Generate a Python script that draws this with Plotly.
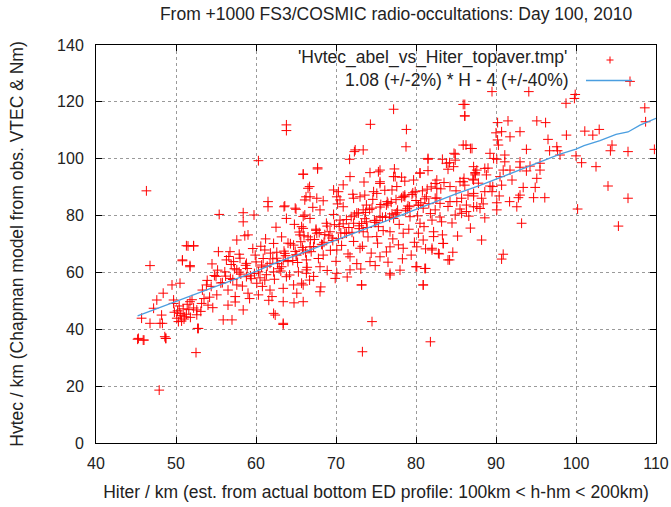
import plotly.graph_objects as go

# --- scatter data (Hiter, Hvtec) ---
hiter = [
 89.5,94.1,99.9,99.8,98.75,108.6,108.7,109.8,106.5,104.5,104.3,101.1,102.1,102.9,98.8,100.0,100.7,102.5,104.0,106.5,105.3,100.2,
 95.1,96.2,96.5,97.6,97.7,96.7,98.0,93.8,93.0,91.75,91.5,90.2,90.7,90.0,90.2,90.3,86.1,86.1,86.25,87.0,89.25,89.7,90.1,91.1,91.1,
 93.0,93.0,93.8,94.25,95.5,95.5,95.1,94.9,93.4,93.0,92.8,94.7,96.1,91.7,92.6,90.1,90.1,90.4,93.2,88.2,90.9,90.7,91.75,92.0,90.7,
 89.5,88.0,88.6,88.8,88.6,87.6,87.4,87.2,86.1,85.7,86.3,87.2,85.7,88.2,89.25,90.9,90.5,106.75,
 73.3,74.5,81.8,80.9,80.0,81.2,73.2,76.75,63.4,64.75,84.2,82.9,83.4,82.0,
 47.9,52.5,45.2,45.9,48.7,46.75,52.7,55.9,57.0,51.3,52.2,50.8,51.75,
 46.3,60.3,63.8,63.8,61.5,61.5,55.4,58.4,58.4,59.75,63.6,63.8,
 77.2,85.9,86.1,74.3,78.8,78.75,72.4,73.4,71.7,85.9,86.8,81.5,83.3,84.9,67.7,65.9,71.75,75.3,74.25,75.5,77.2,77.6,80.5,79.7,82.4,
 84.2,84.0,85.5,87.1,87.4,66.7,64.9,66.75,68.0,70.3,70.5,73.0,74.7,73.4,76.3,77.4,78.6,80.3,81.3,82.4,84.25,86.5,66.1,65.7,
 72.3,84.75,81.5,67.7,75.5,75.5,77.4,78.2,80.5,81.5,82.6,83.8,84.7,84.9,87.2,87.4,85.9,84.25,82.6,79.9,78.6,77.0,75.1,73.6,72.2,
 70.1,69.7,66.5,67.6,66.1,70.9,73.8,76.5,79.0,80.9,83.0,85.1,87.2,87.6,86.3,84.9,83.2,82.0,80.5,79.25,77.2,75.5,73.8,72.2,70.5,
 68.8,66.75,65.9,67.6,69.25,71.3,73.4,75.1,76.75,78.4,80.3,82.2,83.4,82.8,84.0,82.0,80.1,78.4,76.75,75.5,74.25,73.0,71.75,70.1,
 68.4,66.75,66.3,68.0,70.1,71.75,73.2,76.75,80.1,81.1,80.9,67.2,65.9,68.0,66.3,
 65.9,66.25,63.5,65.0,59.0,57.6,51.5,52.2,50.8,51.75,54.5,55.3,56.3,56.75,57.2,58.0,57.6,58.8,59.9,61.1,62.2,60.3,60.7,61.75,
 62.6,63.2,64.0,65.1,65.9,64.7,63.6,62.2,63.8,65.3,66.3,65.7,64.7,63.4,61.75,61.1,60.1,58.8,57.6,56.5,55.1,53.8,53.2,51.75,50.5,
 50.1,51.1,50.3,52.6,54.0,49.7,49.5,50.5,48.4,47.6,49.7,47.2,48.2,45.7,46.75,48.0,48.3,48.6,45.3,46.0,52.8,56.5,58.4,57.4,59.0,
 60.3,62.0,62.2,63.4,62.4,63.4,65.9,65.1,48.75,
 50.2,50.6,50.9,51.3,51.6,50.4,51.0,51.8,52.2,49.8,50.7,51.4,52.6,53.1,52.0,53.5,54.2,54.6,
 55.8,56.2,57.1,57.9,58.3,58.9,59.4,59.8,60.5,60.9,61.3,61.8,62.3,62.7,63.1,63.5,64.2,64.6,55.2,54.8,56.9,57.4,59.2,60.8,61.6,
 65.2,65.6,66.0,66.4,66.9,67.3,67.8,68.2,68.6,68.9,69.3,69.6,70.0,70.4,70.7,71.1,71.5,71.9,72.2,72.6,72.9,73.3,73.7,74.0,74.4,
 74.8,75.2,75.6,75.9,76.3,76.7,77.1,77.5,77.9,78.3,78.7,79.1,79.5,79.8,80.2,80.6,81.0,81.4,81.8,82.2,82.6,83.0,83.5,84.0,84.5,
 85.0,85.5,86.0,86.6,87.2,87.8,88.4,89.0,89.6,64.8,65.9,67.1,68.4,69.7,70.9,72.1,73.5,74.6,76.1,77.3,78.6,66.7,68.1,69.9,71.4,
 73.1,74.9,76.5,78.0,79.4,81.2,83.3,85.2,86.8,88.6,84.6,80.9,77.8,75.3,72.8,70.2,67.5,65.4,63.2,62.5,61.2,60.6,59.6,58.6,57.9,56.6,
 # dense core close to the fitted line
 62.1,62.9,63.7,64.3,65.0,65.8,66.5,67.2,67.9,68.5,69.1,69.8,70.3,70.9,71.6,72.3,72.9,73.6,74.2,74.9,75.5,76.2,76.9,77.6,78.2,
 78.9,79.6,80.3,81.1,81.9,62.6,63.4,64.0,64.9,65.5,66.2,66.8,67.5,68.3,68.9,69.5,70.6,71.3,72.0,72.6,73.2,73.9,74.5,75.1,75.8,
 76.4,77.0,77.7,78.4,79.2,80.0,80.8,81.6,82.4,83.1,
 53.3,53.9,54.4,55.0,55.6,56.1,56.8,57.3,58.1,58.7,59.3,60.0,60.7,61.4,
]
hvtec = [
 123.6,123.6,122.6,121.2,119.5,117.9,113.0,103.3,102.5,104.8,102.8,109.7,108.3,110.3,108.3,101.0,98.6,97.2,90.4,86.1,76.3,82.3,
 113.3,112.7,106.8,104.2,102.8,102.8,101.3,103.3,109.5,107.7,113.3,112.7,109.5,109.1,106.6,104.8,119.1,115.1,104.8,103.6,101.9,100.1,99.8,101.3,98.9,
 98.9,97.0,95.7,97.4,98.4,96.0,93.1,89.9,89.9,87.2,86.3,86.3,86.3,84.9,83.1,84.5,82.0,86.9,77.3,71.4,66.4,64.7,96.0,92.5,90.7,
 88.4,82.5,88.4,94.3,96.6,96.0,94.3,92.5,90.7,86.1,83.7,83.1,80.8,86.1,90.4,96.0,93.7,127.2,
 32.1,42.7,35.6,55.6,62.0,61.4,55.6,59.1,41.7,49.3,64.4,66.5,70.2,68.5,
 18.6,31.8,36.5,36.2,36.8,62.4,40.3,43.3,43.3,69.4,69.4,64.1,62.4,
 88.7,99.3,111.9,109.9,84.9,83.1,80.4,81.0,77.8,80.2,83.4,79.0,
 117.4,119.1,115.0,112.1,110.3,104.2,103.1,103.1,99.8,104.8,103.6,100.1,99.8,101.6,96.8,94.5,93.7,95.4,95.1,91.3,93.7,90.2,95.0,92.5,91.3,
 98.6,96.3,91.9,92.8,95.1,90.2,82.6,86.6,82.0,88.4,85.5,86.6,88.4,82.0,83.7,80.5,87.2,83.7,86.6,82.0,84.9,87.2,80.2,76.1,
 102.5,101.9,99.8,96.4,96.0,91.9,93.7,93.5,94.9,95.8,92.5,98.4,97.2,99.5,97.2,94.9,91.9,90.2,89.6,88.4,86.6,89.0,87.8,87.2,86.1,
 86.6,89.0,89.6,86.1,85.5,83.1,83.7,84.3,83.4,82.6,84.3,84.9,87.8,83.1,81.4,80.2,77.8,78.4,77.3,79.6,79.0,79.6,77.8,77.3,78.4,
 77.3,79.0,75.5,73.8,74.3,73.8,74.3,72.6,74.3,73.8,73.8,72.6,70.2,66.7,64.4,67.9,69.0,68.5,69.0,65.5,63.8,68.5,65.5,67.9,
 66.1,69.0,64.4,62.0,59.7,60.9,55.6,59.7,62.0,61.4,55.6,58.6,55.6,53.2,59.7,
 94.6,86.6,83.1,82.2,73.2,71.4,69.3,69.3,64.4,62.0,63.0,67.3,64.4,67.3,63.8,65.0,60.9,63.2,66.1,67.9,70.2,60.2,62.6,63.2,
 65.0,62.0,63.8,66.1,67.9,69.6,66.7,60.2,58.5,60.2,60.9,56.2,55.6,54.4,53.8,57.3,56.2,58.5,55.6,53.8,52.1,55.6,49.1,49.7,45.6,
 43.9,44.4,42.7,46.8,48.5,49.1,55.6,56.2,52.7,50.3,50.3,47.4,45.0,43.9,42.1,42.1,42.1,37.4,36.8,36.2,40.3,48.5,46.8,51.5,52.7,
 52.1,51.5,45.6,49.7,45.0,42.1,49.7,52.7,36.8,
 46.5,44.8,47.2,45.3,46.9,48.2,43.6,44.2,47.5,46.0,42.9,48.8,45.1,46.3,50.4,50.8,51.3,47.6,
 56.4,58.7,57.5,60.1,55.2,61.4,57.8,59.6,58.1,64.9,59.2,66.8,57.6,63.1,60.5,67.5,59.1,64.2,60.8,58.9,62.8,49.6,50.8,55.1,50.2,
 63.5,70.8,72.9,61.8,67.3,71.6,64.9,69.9,73.3,60.7,67.8,71.2,63.9,76.2,69.5,73.8,66.5,79.6,70.9,63.1,75.4,69.2,81.1,72.5,66.8,
 78.3,70.3,83.9,74.7,67.2,79.4,71.8,85.6,76.9,64.8,81.7,75.2,87.4,70.6,79.9,84.5,76.1,89.3,80.7,74.3,86.2,79.5,91.6,83.2,77.4,
 88.7,82.3,93.1,79.8,86.9,91.4,84.1,96.7,90.2,76.9,79.7,82.9,85.2,80.4,90.8,87.5,91.8,85.7,88.9,96.4,92.1,57.3,54.9,57.9,58.4,
 61.2,62.4,63.6,60.8,66.1,68.3,73.2,72.8,75.6,79.2,67.1,71.4,69.7,76.1,80.9,84.1,75.2,74.2,72.5,75.9,71.8,69.2,68.4,72.9,66.4,65.6,
 # dense core close to the fitted line
 64.8,61.3,65.9,70.1,66.2,68.8,72.5,69.1,74.0,70.6,72.9,76.8,71.9,77.1,75.8,80.2,76.4,78.9,82.1,77.6,83.0,79.5,84.7,81.0,86.3,
 82.4,88.0,83.6,85.9,90.1,67.1,64.2,70.3,67.4,73.2,66.9,71.5,74.8,69.7,76.3,72.1,73.9,78.6,74.1,80.9,77.2,75.8,82.6,78.3,79.4,
 84.9,80.6,81.9,86.8,83.1,85.3,88.7,84.2,86.1,89.4,
 53.8,57.2,55.1,58.6,56.3,60.2,57.9,61.3,59.4,62.5,58.8,63.7,61.9,62.2,
]

# --- fitted running line (1.08*H - 4) ---
fit_x = [45.2, 47, 50, 52, 55, 58, 60, 62, 65, 68, 70, 72, 75, 78, 80, 82, 85, 88, 90, 92, 95, 98, 100, 101, 103, 105, 106.5, 108, 110]
fit_y = [44.7, 46.6, 49.8, 52.0, 55.3, 58.4, 60.4, 62.8, 66.0, 69.2, 71.2, 73.6, 76.8, 80.0, 82.2, 84.4, 87.6, 90.6, 92.8, 95.0, 98.4, 101.6, 103.4, 104.6, 106.4, 108.6, 109.4, 111.8, 114.2]

x_ticks = [40, 50, 60, 70, 80, 90, 100, 110]
y_ticks = [0, 20, 40, 60, 80, 100, 120, 140]

title_text = "From +1000 FS3/COSMIC radio-occultations: Day 100, 2010"
x_title = "Hiter / km (est. from actual bottom ED profile: 100km < h-hm < 200km)"
y_title = "Hvtec / km (Chapman model from obs. VTEC & Nm)"
legend_1 = "'Hvtec_abel_vs_Hiter_topaver.tmp'"
legend_2 = "1.08 (+/-2%) * H - 4 (+/-40%)"

FONT = "Liberation Sans"
FS_TICK = 16
FS_TXT = 17.5
TXT = "#222"
RED = "#ff0000"
BLUE = "#4a9ee0"

W, H = 671, 507
L, R, T, B = 96, 15, 45, 64
pw, ph = W - L - R, H - T - B

fig = go.Figure()
fig.add_trace(go.Scatter(
    x=hiter, y=hvtec, mode="markers",
    marker=dict(symbol="cross-thin", size=7, color=RED, line=dict(color=RED, width=1)),
    showlegend=False, hoverinfo="skip"))
fig.add_trace(go.Scatter(
    x=fit_x, y=fit_y, mode="lines",
    line=dict(color=BLUE, width=1.3), showlegend=False, hoverinfo="skip"))

def px_x(p):
    return (p - L) / pw
def px_y(p):
    return (H - B - p) / ph

axis_common = dict(
    showline=True, linecolor="black", linewidth=1, mirror="ticks",
    ticks="inside", ticklen=6, tickcolor="black",
    showgrid=True, gridcolor="#9a9a9a", griddash="dot", gridwidth=1,
    zeroline=False, automargin=False,
    tickfont=dict(family=FONT, size=FS_TICK, color=TXT),
)
fig.update_xaxes(range=[40, 110], tickvals=x_ticks, ticktext=[str(v) for v in x_ticks],
                 ticklabelstandoff=6,
                 title=dict(text=x_title, font=dict(family=FONT, size=FS_TXT, color=TXT), standoff=14),
                 **axis_common)
fig.update_yaxes(range=[0, 140], tickvals=y_ticks, ticktext=[str(v) for v in y_ticks],
                 ticklabelstandoff=8,
                 title=dict(text=y_title, font=dict(family=FONT, size=FS_TXT, color=TXT), standoff=28),
                 **axis_common)

annotations = [
    dict(text=legend_1, xref="paper", yref="paper", x=px_x(569), y=px_y(57),
         xanchor="right", yanchor="middle", showarrow=False,
         font=dict(family=FONT, size=FS_TXT, color=TXT)),
    dict(text=legend_2, xref="paper", yref="paper", x=px_x(571), y=px_y(80),
         xanchor="right", yanchor="middle", showarrow=False,
         font=dict(family=FONT, size=FS_TXT, color=TXT)),
]
shapes = [
    dict(type="line", xref="paper", yref="paper", x0=px_x(586), x1=px_x(632), y0=px_y(80.5), y1=px_y(80.5),
         line=dict(color=BLUE, width=1.3)),
    dict(type="line", xref="paper", yref="paper", x0=px_x(606.5), x1=px_x(613.5), y0=px_y(60), y1=px_y(60),
         line=dict(color=RED, width=1)),
    dict(type="line", xref="paper", yref="paper", x0=px_x(610), x1=px_x(610), y0=px_y(56.5), y1=px_y(63.5),
         line=dict(color=RED, width=1)),
]

fig.update_layout(
    width=W, height=H,
    margin=dict(l=L, r=R, t=T, b=B, autoexpand=False),
    paper_bgcolor="white", plot_bgcolor="white",
    title=dict(text=title_text, x=396 / W, xanchor="center", y=1 - 14 / H, yanchor="middle",
               xref="container", yref="container", automargin=False,
               font=dict(family=FONT, size=FS_TXT, color=TXT)),
    annotations=annotations, shapes=shapes,
)

fig.write_html("out.html")
